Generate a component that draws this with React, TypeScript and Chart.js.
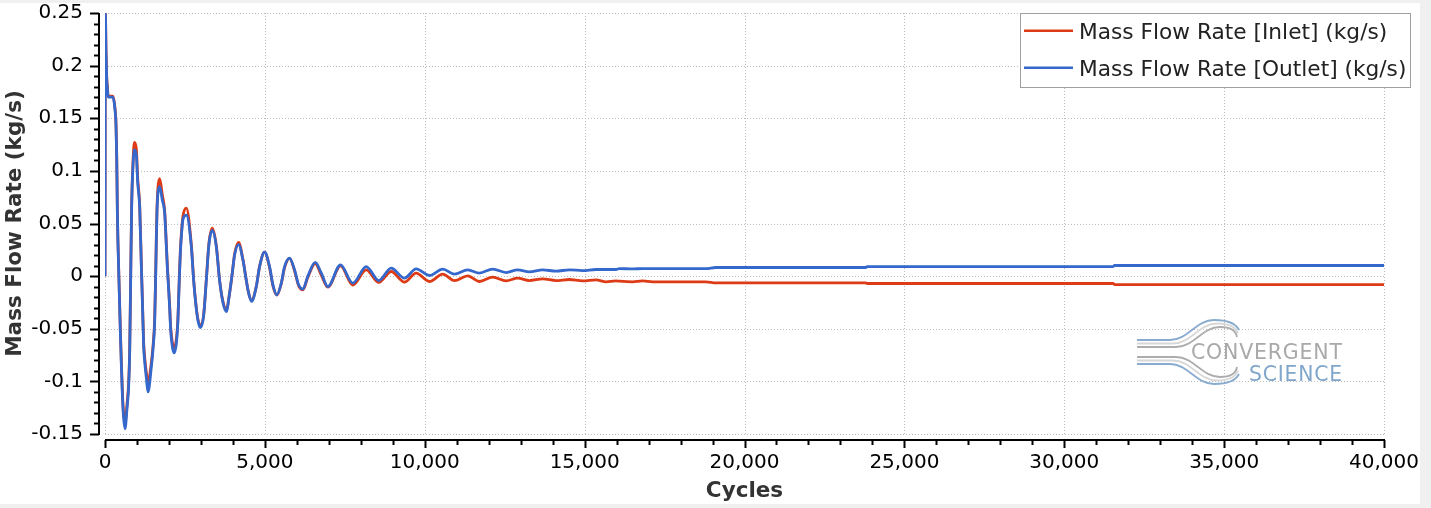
import React, { useEffect, useRef } from "react";
import { Chart, registerables } from "chart.js";

Chart.register(...registerables);

// ---- data ----
const cycles = [
  0, 12, 31, 53, 75, 100, 250, 303, 344, 366, 388, 438, 481, 513, 544, 575, 625, 688, 741, 772,
  803, 834, 875, 919, 981, 1022, 1084, 1138, 1169, 1209, 1241, 1294, 1344, 1450, 1500, 1553, 1584, 1606, 1625, 1656,
  1709, 1794, 1866, 1919, 1950, 1991, 2022, 2053, 2106, 2156, 2231, 2281, 2313, 2356, 2397, 2438, 2544, 2700, 2772, 2834,
  2906, 2981, 3084, 3169, 3250, 3356, 3481, 3584, 3688, 3794, 3897, 3981, 4053, 4178, 4313, 4419, 4491, 4584, 4731, 4834,
  4991, 5147, 5250, 5375, 5513, 5616, 5772, 5928, 6053, 6188, 6344, 6575, 6763, 6969, 7366, 7750, 8169, 8563, 8950, 9366,
  9731, 10147, 10563, 10928, 11344, 11709, 12125, 12544, 12906, 13272, 13688, 14106, 14522, 14938, 15356, 15669, 15981, 16084, 16500, 16813,
  17125, 18794, 19106, 23794, 23834, 31531, 31569, 40000,
];

const outletFlow = [
  0, 0.25, 0.213, 0.187, 0.178, 0.17, 0.17, 0.161, 0.143, 0.113, 0.058, -0.006, -0.054, -0.086, -0.113, -0.132, -0.145, -0.126, -0.104, -0.073,
  -0.003, 0.066, 0.104, 0.12, 0.115, 0.089, 0.066, 0.008, -0.024, -0.067, -0.081, -0.097, -0.11, -0.086, -0.07, -0.044, -0.002, 0.035, 0.06, 0.079,
  0.085, 0.072, 0.06, 0.028, 0.008, -0.013, -0.03, -0.051, -0.067, -0.073, -0.064, -0.042, -0.013, 0.022, 0.041, 0.054, 0.058, 0.028, -0.004, -0.025,
  -0.042, -0.049, -0.038, -0.004, 0.03, 0.0434, 0.028, -0.004, -0.025, -0.0336, -0.016, 0.003, 0.02, 0.03, 0.0155, -0.004, -0.016, -0.024, -0.01, 0.009,
  0.0228, 0.009, -0.008, -0.0178, -0.0067, 0.009, 0.0171, 0.006, -0.008, -0.0124, 0.0, 0.013, 0.003, -0.0099, 0.0107, -0.0067, 0.009, -0.0042, 0.0076, -0.0019,
  0.0069, 0.0006, 0.0067, 0.0019, 0.006, 0.0029, 0.0067, 0.0034, 0.006, 0.004, 0.006, 0.0047, 0.006, 0.0053, 0.0063, 0.0063, 0.0063, 0.0072, 0.0068, 0.0072,
  0.0072, 0.0072, 0.0082, 0.0082, 0.0091, 0.0091, 0.0101, 0.0101,
];

const inletFlow = [
  0, 0.25, 0.215, 0.19, 0.18, 0.171, 0.171, 0.162, 0.145, 0.115, 0.06, -0.004, -0.052, -0.083, -0.11, -0.128, -0.14, -0.122, -0.1, -0.07,
  0.0, 0.069, 0.108, 0.127, 0.121, 0.093, 0.068, 0.01, -0.021, -0.063, -0.077, -0.092, -0.101, -0.082, -0.067, -0.041, 0.001, 0.038, 0.063, 0.084,
  0.0925, 0.077, 0.062, 0.03, 0.01, -0.011, -0.028, -0.048, -0.063, -0.068, -0.06, -0.04, -0.011, 0.024, 0.044, 0.057, 0.0646, 0.03, -0.003, -0.024,
  -0.041, -0.047, -0.037, -0.003, 0.031, 0.0456, 0.029, -0.004, -0.024, -0.032, -0.016, 0.003, 0.021, 0.032, 0.016, -0.004, -0.016, -0.023, -0.01, 0.009,
  0.0228, 0.008, -0.009, -0.018, -0.007, 0.008, 0.0168, 0.005, -0.009, -0.013, -0.001, 0.012, 0.001, -0.0105, 0.0098, -0.0085, 0.006, -0.006, 0.0044, -0.0057,
  0.0029, -0.0051, 0.0019, -0.0042, 0.0003, -0.0051, -0.001, -0.0045, -0.0019, -0.0042, -0.0026, -0.0042, -0.0032, -0.0045, -0.0035, -0.0054, -0.0045, -0.0048, -0.0054, -0.0045,
  -0.0054, -0.0054, -0.0064, -0.0064, -0.007, -0.007, -0.008, -0.008,
];

const seriesLabels = ["Mass Flow Rate [Inlet] (kg/s)", "Mass Flow Rate [Outlet] (kg/s)"];
const xAxisTitle = "Cycles";
const yAxisTitle = "Mass Flow Rate (kg/s)";
const logoWords = ["CONVERGENT", "SCIENCE"];

const RED = "#dd3b16";
const BLUE = "#3468cc";
const FONT = '"DejaVu Sans", Verdana, sans-serif';

export default function App() {
  const ref = useRef<HTMLCanvasElement>(null);

  useEffect(() => {
    const canvas = ref.current;
    if (!canvas) return;

    const decor = {
      id: "decor",
      beforeDatasetsDraw(chart: any) {
        const { ctx, chartArea: a, scales } = chart;
        const x = scales.x;
        const y = scales.y;
        ctx.save();
        ctx.strokeStyle = "#bdbdbd";
        ctx.lineWidth = 1;
        ctx.setLineDash([1, 2]);
        for (const t of x.ticks) {
          const px = Math.round(x.getPixelForValue(t.value)) + 0.5;
          ctx.beginPath();
          ctx.moveTo(px, a.top);
          ctx.lineTo(px, a.bottom);
          ctx.stroke();
        }
        for (const t of y.ticks) {
          const py = Math.round(y.getPixelForValue(t.value)) + 0.5;
          ctx.beginPath();
          ctx.moveTo(a.left, py);
          ctx.lineTo(a.right, py);
          ctx.stroke();
        }
        ctx.setLineDash([]);

        // logo swooshes
        const colors = ["#88abcf", "#d8d8d8", "#adadad"];
        const groups = [
          { base: [337, 340.5, 344], dir: -1 },
          { base: [361, 357.5, 354], dir: 1 },
        ];
        ctx.lineWidth = 1.8;
        for (const g of groups) {
          g.base.forEach((b, i) => {
            const d = g.dir * 20;
            ctx.strokeStyle = colors[i];
            ctx.beginPath();
            ctx.moveTo(1137, b);
            ctx.lineTo(1170 + i * 3, b);
            ctx.bezierCurveTo(1188 + i * 3, b, 1196 + i * 3, b + d, 1214 + i * 3, b + d);
            ctx.bezierCurveTo(1228 + i * 2, b + d, 1236, b + d * 0.8, 1239 - i, b + d * 0.5);
            ctx.stroke();
          });
        }
        ctx.font = `20.5px ${FONT}`;
        ctx.textBaseline = "alphabetic";
        ctx.textAlign = "left";
        try {
          (ctx as any).letterSpacing = "0.8px";
        } catch (e) {}
        ctx.fillStyle = "#a9a9a9";
        ctx.fillText(logoWords[0], 1191, 356, 152);
        ctx.fillStyle = "#80a6cb";
        ctx.fillText(logoWords[1], 1249, 378, 94);
        try {
          (ctx as any).letterSpacing = "0px";
        } catch (e) {}
        ctx.restore();
      },
      afterDraw(chart: any) {
        const { ctx, chartArea: a, scales } = chart;
        const x = scales.x;
        const y = scales.y;
        ctx.save();
        ctx.strokeStyle = "#000";
        ctx.lineWidth = 2;
        const axY = a.bottom + 6;
        const axX = a.left - 6;
        // bottom axis
        ctx.beginPath();
        ctx.moveTo(a.left, axY);
        ctx.lineTo(a.right + 1, axY);
        ctx.stroke();
        for (let v = 0; v <= 40000; v += 1000) {
          const px = Math.round(x.getPixelForValue(v)) + 0.5;
          const len = v % 5000 === 0 ? 8 : 5;
          ctx.beginPath();
          ctx.moveTo(px, axY);
          ctx.lineTo(px, axY + len);
          ctx.stroke();
        }
        // left axis
        ctx.beginPath();
        ctx.moveTo(axX, a.top);
        ctx.lineTo(axX, a.bottom + 1);
        ctx.stroke();
        for (let k = -15; k <= 25; k++) {
          const py = Math.round(y.getPixelForValue(k / 100)) + 0.5;
          const len = k % 5 === 0 ? 9 : 5;
          ctx.beginPath();
          ctx.moveTo(axX, py);
          ctx.lineTo(axX - len, py);
          ctx.stroke();
        }

        // legend
        ctx.fillStyle = "#fff";
        ctx.fillRect(1020, 10, 391, 75);
        ctx.strokeStyle = "#a0a0a0";
        ctx.lineWidth = 1;
        ctx.strokeRect(1020.5, 10.5, 390, 74);
        const rows = [
          { c: RED, ly: 27.7, ty: 36.3, t: seriesLabels[0] },
          { c: BLUE, ly: 64.7, ty: 73.3, t: seriesLabels[1] },
        ];
        ctx.font = `21.7px ${FONT}`;
        ctx.textAlign = "left";
        ctx.textBaseline = "alphabetic";
        for (const r of rows) {
          ctx.strokeStyle = r.c;
          ctx.lineWidth = 2.5;
          ctx.beginPath();
          ctx.moveTo(1024, r.ly);
          ctx.lineTo(1073, r.ly);
          ctx.stroke();
          ctx.fillStyle = "#222";
          ctx.fillText(r.t, 1079, r.ty);
        }
        ctx.restore();
      },
    };

    const chart = new Chart(canvas, {
      type: "line",
      data: {
        datasets: [
          {
            label: seriesLabels[0],
            data: cycles.map((c, i) => ({ x: c, y: inletFlow[i] })),
            borderColor: RED,
            backgroundColor: RED,
            borderWidth: 2.8,
            pointRadius: 0,
            cubicInterpolationMode: "monotone",
            order: 2,
          },
          {
            label: seriesLabels[1],
            data: cycles.map((c, i) => ({ x: c, y: outletFlow[i] })),
            borderColor: BLUE,
            backgroundColor: BLUE,
            borderWidth: 2.8,
            pointRadius: 0,
            cubicInterpolationMode: "monotone",
            order: 1,
          },
        ],
      },
      options: {
        responsive: false,
        animation: false,
        devicePixelRatio: 1,
        layout: { padding: { left: 0, right: 36, top: 10, bottom: 0 } },
        plugins: { legend: { display: false }, tooltip: { enabled: false } },
        scales: {
          x: {
            type: "linear",
            min: 0,
            max: 40000,
            grid: { display: false, drawTicks: false },
            border: { display: false },
            ticks: {
              stepSize: 5000,
              autoSkip: false,
              maxRotation: 0,
              padding: 17,
              color: "#000",
              font: { family: FONT, size: 20 },
              callback: (v: any) => Number(v).toLocaleString("en-US"),
            },
            title: {
              display: true,
              text: xAxisTitle,
              color: "#333",
              font: { family: FONT, size: 21.5, weight: "bold" },
              padding: { top: 0, bottom: 0 },
            },
            afterFit: (s: any) => {
              s.height = 70;
              s.paddingLeft = 0;
              s.paddingRight = 0;
            },
          },
          y: {
            type: "linear",
            min: -0.15,
            max: 0.25,
            grid: { display: false, drawTicks: false },
            border: { display: false },
            ticks: {
              stepSize: 0.05,
              padding: 22,
              color: "#000",
              font: { family: FONT, size: 20 },
              callback: (v: any) => String(Math.round(Number(v) * 100) / 100),
            },
            title: {
              display: true,
              text: yAxisTitle,
              color: "#333",
              font: { family: FONT, size: 21.5, weight: "bold" },
              padding: { top: 3, bottom: 0 },
            },
            afterFit: (s: any) => {
              s.width = 105;
              s.paddingTop = 0;
              s.paddingBottom = 0;
            },
          },
        },
      },
      plugins: [decor],
    } as any);

    return () => chart.destroy();
  }, []);

  return (
    <div
      style={{
        position: "fixed",
        left: 0,
        top: 0,
        width: 1431,
        height: 508,
        background: "#f0f0f0",
        overflow: "hidden",
      }}
    >
      <div style={{ position: "absolute", left: 0, top: 3, width: 1420, height: 501, background: "#fff" }}>
        <canvas ref={ref} width={1420} height={501} style={{ display: "block", width: 1420, height: 501 }} />
      </div>
    </div>
  );
}
